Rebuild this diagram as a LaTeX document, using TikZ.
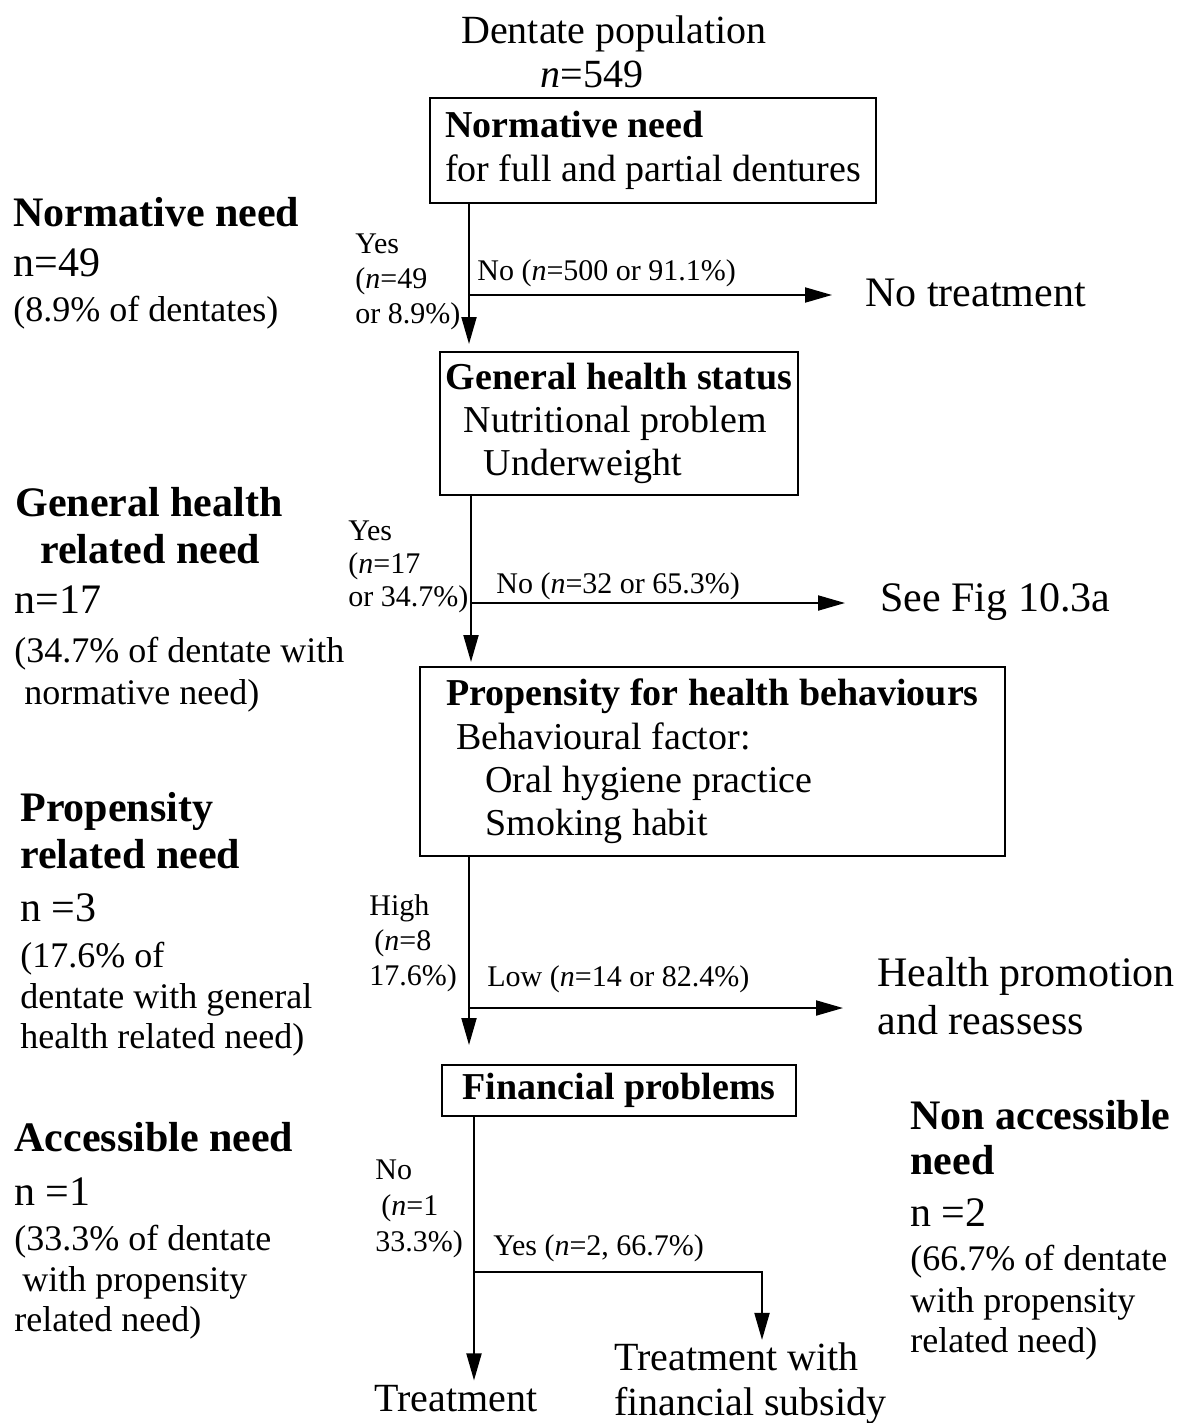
\documentclass[tikz,border=0pt]{standalone}
\usepackage{fontspec}
\setmainfont{Liberation Serif}
\usetikzlibrary{arrows.meta}

\tikzset{
  flowbox/.style={draw, line width=1pt, inner sep=0pt, align=left,
    font=\fontsize{19}{21.7}\selectfont},
  branch/.style={inner sep=0pt, align=left, font=\fontsize{15}{17.5}\selectfont},
  outcome/.style={inner sep=0pt, align=left, font=\fontsize{21}{24}\selectfont},
  outcomesm/.style={inner sep=0pt, align=left, font=\fontsize{20}{22.5}\selectfont},
  needhead/.style={inner sep=0pt, anchor=base west, font=\fontsize{21}{24}\selectfont\bfseries},
  needcount/.style={inner sep=0pt, anchor=base west, font=\fontsize{21}{24}\selectfont},
  neednote/.style={inner sep=0pt, anchor=base west, font=\fontsize{18}{21}\selectfont},
  flow/.style={line width=1pt},
  arr/.style={line width=1pt, -{Triangle[length=13.5pt,width=7.5pt]}}
}

\begin{document}
\begin{tikzpicture}[x=0.5pt, y=-0.5pt]
\fill[white] (0,0) rectangle (1179,1423);
\useasboundingbox (0,0) rectangle (1179,1423);

% population header
\node[inner sep=0pt, anchor=base, font=\fontsize{20}{23}\selectfont] (pop) at (614,44) {Dentate population};
\node[inner sep=0pt, anchor=base, font=\fontsize{20}{23}\selectfont] (popn) at (592,88) {\textit{n}=549};

% decision boxes
\node[flowbox, minimum width=223pt, minimum height=52.5pt] (box1) at (653,150.5)
  {\textbf{Normative need}\\for full and partial dentures};
\node[flowbox, minimum width=179pt, minimum height=71.5pt] (box2) at (619,423.5)
  {\textbf{General health status}\\\hspace{9pt}Nutritional problem\\\hspace{19pt}Underweight};
\node[flowbox, minimum width=292.5pt, minimum height=94.5pt] (box3) at (712.5,761.5)
  {\textbf{Propensity for health behaviours}\\\hspace{5pt}Behavioural factor:\\\hspace{19.5pt}Oral hygiene practice\\\hspace{19.5pt}Smoking habit};
\node[flowbox, minimum width=177pt, minimum height=25.5pt] (box4) at (619,1090.5)
  {\textbf{Financial problems}};

% outcomes
\node[outcome, anchor=base west] (notreat) at (865,306) {No treatment};
\node[outcome, anchor=base west] (seefig) at (880,611) {See Fig 10.3a};
\node[outcome, anchor=west] (promo) at (877,996) {Health promotion\\and reassess};
\node[outcomesm, anchor=base west] (treat) at (374,1411) {Treatment};
\node[outcomesm, anchor=west] (subsidy) at (614,1383) {Treatment with\\financial subsidy};

% branch labels
\node[branch, anchor=west] (yes1) at (355,282) {Yes\\(\textit{n}=49\\or 8.9\%)};
\node[branch, anchor=base west] (no1) at (477,280) {No (\textit{n}=500 or 91.1\%)};
\node[branch, anchor=west, font=\fontsize{15}{16.5}\selectfont] (yes2) at (348,567) {Yes\\(\textit{n}=17\\or 34.7\%)};
\node[branch, anchor=base west] (no2) at (496,593) {No (\textit{n}=32 or 65.3\%)};
\node[branch, anchor=west] (high) at (369,943) {High\\\hspace{2.5pt}(\textit{n}=8\\17.6\%)};
\node[branch, anchor=base west] (low) at (487,986) {Low (\textit{n}=14 or 82.4\%)};
\node[branch, anchor=west, font=\fontsize{15}{18}\selectfont] (no4) at (375,1209) {No\\\hspace{3pt}(\textit{n}=1\\33.3\%)};
\node[branch, anchor=base west] (yes4) at (493,1255) {Yes (\textit{n}=2, 66.7\%)};

% need categories, left column
\node[needhead] (nn1) at (13,227) {Normative need};
\node[needcount] (nn2) at (13,277) {n=49};
\node[neednote] (nn3) at (13,321) {(8.9\% of dentates)};

\node[needhead] (gh1) at (15,516) {General health};
\node[needhead] (gh2) at (40,563) {related need};
\node[needcount] (gh3) at (14,613) {n=17};
\node[neednote] (gh4) at (14,662) {(34.7\% of dentate with};
\node[neednote] (gh5) at (24,704) {normative need)};

\node[needhead] (pr1) at (20,821) {Propensity};
\node[needhead] (pr2) at (20,868) {related need};
\node[needcount] (pr3) at (20,921) {n =3};
\node[neednote] (pr4) at (20,967) {(17.6\% of};
\node[neednote] (pr5) at (20,1008) {dentate with general};
\node[neednote] (pr6) at (20,1048) {health related need)};

\node[needhead] (ac1) at (14,1151) {Accessible need};
\node[needcount] (ac2) at (14,1205) {n =1};
\node[neednote] (ac3) at (14,1250) {(33.3\% of dentate};
\node[neednote] (ac4) at (22,1291) {with propensity};
\node[neednote] (ac5) at (14,1331) {related need)};

% need categories, right column
\node[needhead] (na1) at (910,1129) {Non accessible};
\node[needhead] (na2) at (910,1174) {need};
\node[needcount] (na3) at (910,1226) {n =2};
\node[neednote] (na4) at (910,1270) {(66.7\% of dentate};
\node[neednote] (na5) at (910,1312) {with propensity};
\node[neednote] (na6) at (910,1352) {related need)};

% junction points on the main flow
\coordinate (j1) at (469,295);
\coordinate (j2) at (471,603);
\coordinate (j3) at (469,1008);
\coordinate (j4) at (474,1272);
\coordinate (j5) at (762,1272);

% connectors
\draw[arr, shorten >=3.5pt] (box1.south -| j1) -- (box2.north -| j1);
\draw[arr, shorten >=16.5pt] (j1) -- (j1 -| notreat.west);

\draw[arr, shorten >=2pt] (box2.south -| j2) -- (box3.north -| j2);
\draw[arr, shorten >=17.5pt] (j2) -- (j2 -| seefig.west);

\draw[arr, shorten >=9.5pt] (box3.south -| j3) -- (box4.north -| j3);
\draw[arr, shorten >=17pt] (j3) -- (j3 -| promo.west);

\draw[arr, shorten >=2pt] (box4.south -| j4) -- (j4 |- treat.north);
\draw[arr, shorten >=1pt] (j4) -- (j5) -- (j5 |- subsidy.north);
\end{tikzpicture}
\end{document}
